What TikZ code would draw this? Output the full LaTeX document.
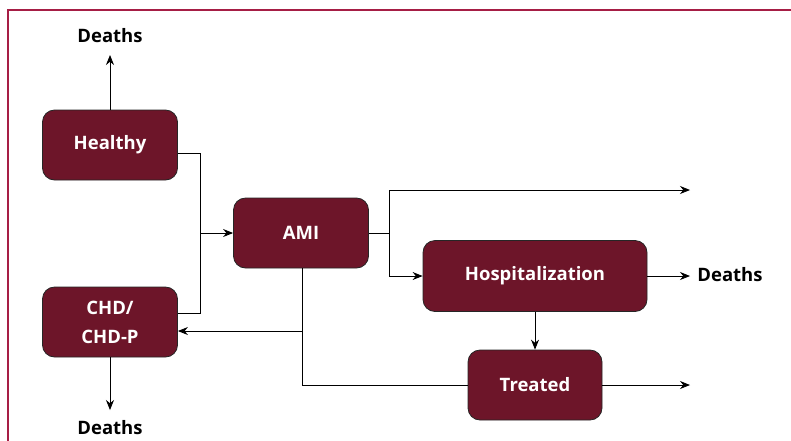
\documentclass[tikz,border=0pt]{standalone}
\usepackage{fontspec}
\setmainfont{Open Sans}
\usetikzlibrary{arrows.meta}
\definecolor{boxfill}{HTML}{6D1529}
\definecolor{framecol}{HTML}{A61E45}
\tikzset{
  stagebox/.style={draw=black!85, line width=0.8pt, fill=boxfill, rounded corners=12pt,
    text=white, font=\fontsize{18.5}{29}\selectfont\bfseries, align=center,
    inner sep=0pt},
  lbl/.style={font=\fontsize{18.5}{26}\selectfont\bfseries, text=black, inner sep=0pt},
  conn/.style={draw=black, line width=0.9pt},
  arr/.style={conn, -{Stealth[length=10pt,width=8pt]}},
}
\begin{document}
\begin{tikzpicture}[x=1pt,y=-1pt]
\useasboundingbox (0,0) rectangle (791,440);
\draw[framecol, line width=2pt] (8,441) -- (8,10) -- (792,10);

\node[stagebox, minimum width=135pt, minimum height=70pt] (healthy) at (110,145) {Healthy};
\node[stagebox, minimum width=135pt, minimum height=70pt] (chd) at (110,322) {CHD/\\CHD-P};
\node[stagebox, minimum width=135pt, minimum height=70pt] (ami) at (301,233) {AMI};
\node[stagebox, minimum width=224pt, minimum height=71pt] (hosp) at (535,276) {Hospitalization};
\node[stagebox, minimum width=134pt, minimum height=70pt] (treated) at (535,385) {Treated};

\node[lbl] (d1) at (110,36) {Deaths};
\node[lbl] (d2) at (110,428) {Deaths};
\node[lbl] (d3) at (730,275) {Deaths};

\coordinate (jl) at (200,233);
\coordinate (jr) at (389,233);
\coordinate (e1) at (690,190);
\coordinate (e2) at (690,276);
\coordinate (e3) at (690,385);
\coordinate (jb) at (302,331);

\draw[arr] (healthy.north) -- (110,55);
\draw[arr] (chd.south) -- (110,410);

\draw[conn] (healthy.east |- 0,153) -| (jl);
\draw[conn] (chd.east |- 0,313) -| (jl);
\draw[arr] (jl) -- (ami.west);

\draw[conn] (ami.east) -- (jr);
\draw[arr] (jr) |- (e1);
\draw[arr] (jr) |- (hosp.west);

\draw[arr] (hosp.east) -- (e2);
\draw[arr] (hosp.south) -- (treated.north);
\draw[arr] (treated.east) -- (e3);

\draw[conn] (ami.south -| jb) |- (treated.west);
\draw[arr] (jb) -- (chd.east |- jb);
\end{tikzpicture}
\end{document}
